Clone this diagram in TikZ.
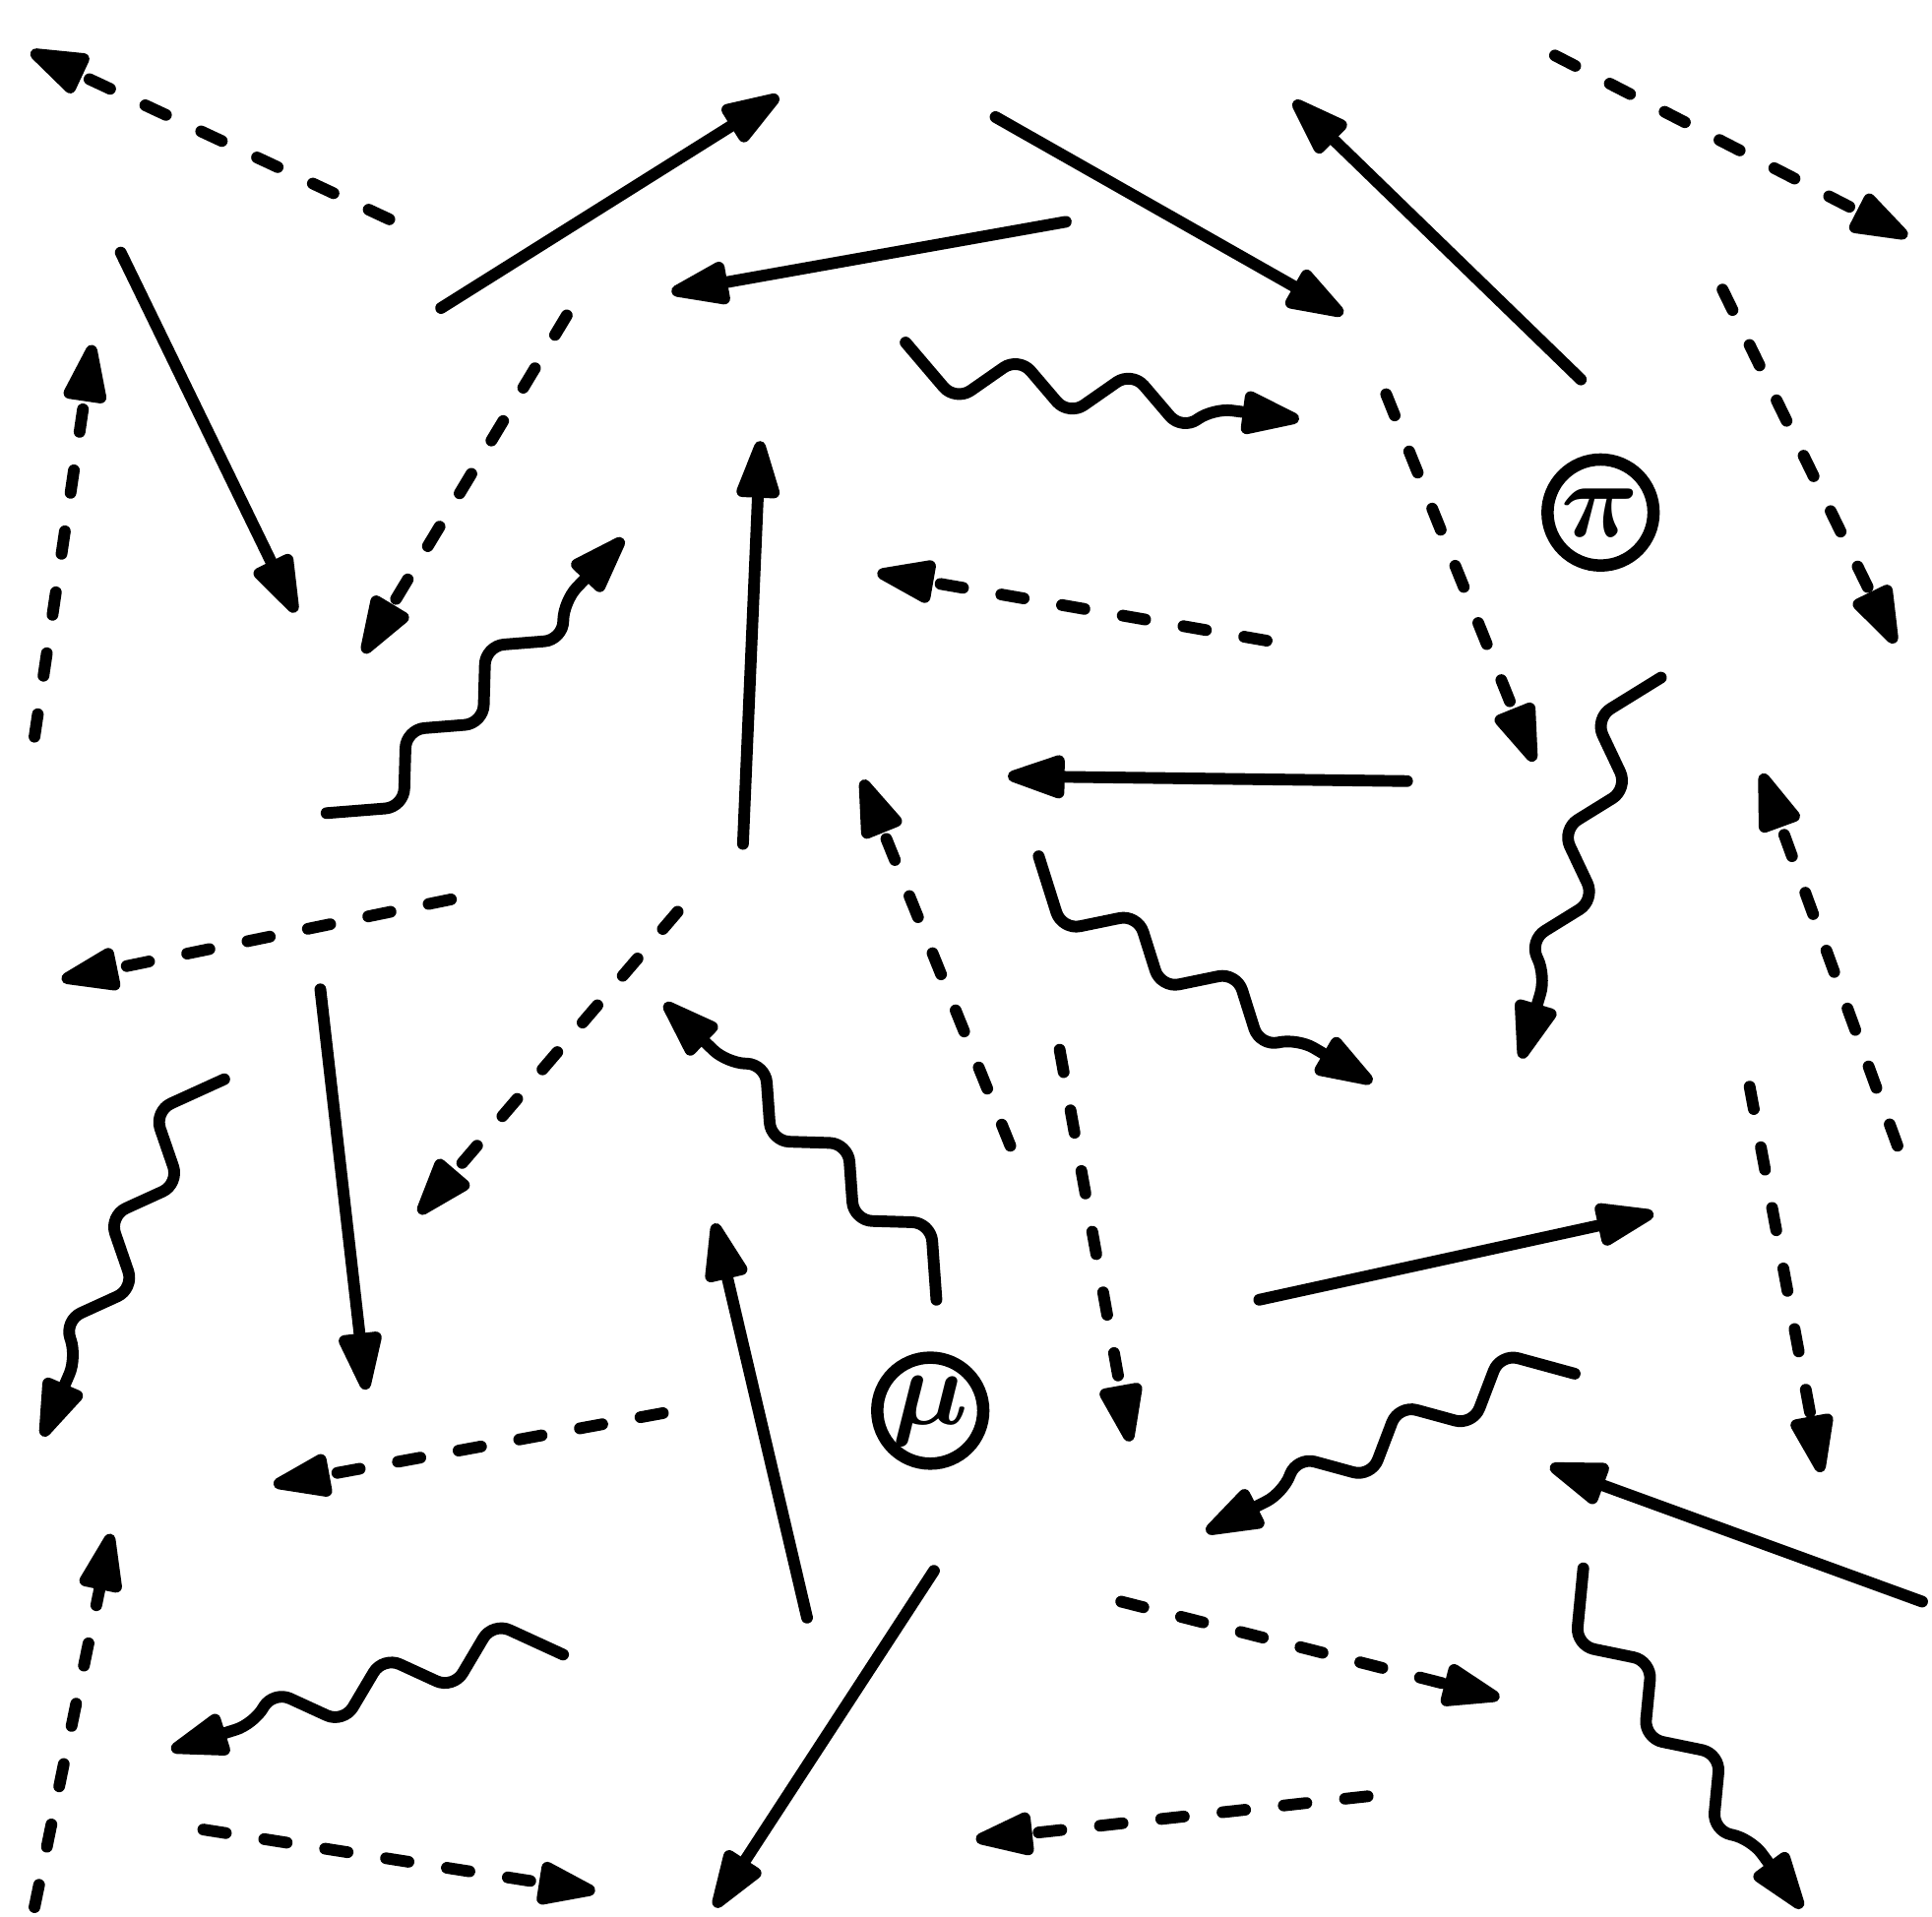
\documentclass[tikz,border=0pt]{standalone}
\usepackage{bm}
\usetikzlibrary{arrows.meta,decorations,calc}
\newdimen\wavethreshold
\pgfdeclaredecoration{stairwave}{up}{
  \state{up}[width=0.5\pgfdecorationsegmentlength, next state=down,
     switch if less than=\wavethreshold to final]{
    \pgfpathlineto{\pgfpoint{0.5\pgfdecorationsegmentlength}{-2\pgfdecorationsegmentamplitude}}
  }
  \state{down}[width=0.5\pgfdecorationsegmentlength, next state=up,
     switch if less than=\wavethreshold to final]{
    \pgfpathlineto{\pgfpoint{0.5\pgfdecorationsegmentlength}{0pt}}
  }
  \state{final}{
    \pgfpathlineto{\pgfpoint{0.25\pgfdecorationsegmentlength}{-\pgfdecorationsegmentamplitude}}
    \pgfpathlineto{\pgfpoint{\pgfdecoratedremainingdistance}{-\pgfdecorationsegmentamplitude}}
  }
}
\tikzset{
  fer/.style={line width=0.095cm, line cap=round, line join=round,
    -{Triangle[length=5.7mm,width=3.6mm,round]}},
  scal/.style={fer, dash pattern=on 0.185cm off 0.315cm},
  bos/.style={fer, decorate, rounded corners=0.15cm,
    decoration={stairwave, amplitude=0.21cm}},
  blob/.style={circle, draw, line width=0.1cm, minimum size=0.86cm,
    inner sep=0pt, font=\fontsize{31}{31}\selectfont}
}
\begin{document}
\begin{tikzpicture}[x=0.01cm,y=-0.01cm]
\useasboundingbox (0,0) rectangle (1568,1556);
% coordinates
\coordinate (s1) at (316,178);  \coordinate (e1) at (25,42);
\coordinate (s2) at (358,250);  \coordinate (e2) at (632,78);
\coordinate (s3) at (808,95);   \coordinate (e3) at (1090,255);
\coordinate (s4) at (1283,308); \coordinate (e4) at (1050,82);
\coordinate (s5) at (1262,45);  \coordinate (e5) at (1548,192);
\coordinate (s6) at (98,205);   \coordinate (e6) at (240,497);
\coordinate (s7) at (865,180);  \coordinate (e7) at (545,237);
\coordinate (s8) at (460,256);  \coordinate (e8) at (295,530);
\coordinate (s9) at (735,278);  \coordinate (e9) at (1053,340);
\coordinate (s10) at (1125,320); \coordinate (e10) at (1245,618);
\coordinate (s12) at (1398,235); \coordinate (e12) at (1538,522);
\coordinate (s13) at (28,598);   \coordinate (e13) at (75,280);
\coordinate (s14) at (265,660);  \coordinate (e14) at (505,438);
\coordinate (s15) at (603,685);  \coordinate (e15) at (617,358);
\coordinate (s16) at (1028,520); \coordinate (e16) at (712,465);
\coordinate (s17) at (1142,634); \coordinate (e17) at (818,630);
\coordinate (s18) at (1348,550); \coordinate (e18) at (1235,858);
\coordinate (s19) at (366,730);  \coordinate (e19) at (50,795);
\coordinate (s20) at (550,740);  \coordinate (e20) at (340,985);
\coordinate (s21) at (760,1055); \coordinate (e21) at (540,815);
\coordinate (s22) at (820,930);  \coordinate (e22) at (700,633);
\coordinate (s23) at (843,695);  \coordinate (e23) at (1113,878);
\coordinate (s24) at (1540,930); \coordinate (e24) at (1430,628);
\coordinate (s25) at (260,803);  \coordinate (e25) at (297,1128);
\coordinate (s26) at (182,876);  \coordinate (e26) at (35,1165);
\coordinate (s27) at (860,852);  \coordinate (e27) at (917,1170);
\coordinate (s28) at (1420,882); \coordinate (e28) at (1478,1195);
\coordinate (s29) at (1022,1055); \coordinate (e29) at (1342,985);
\coordinate (s31) at (655,1313); \coordinate (e31) at (580,993);
\coordinate (s32) at (538,1147); \coordinate (e32) at (222,1205);
\coordinate (s33) at (1278,1115); \coordinate (e33) at (980,1243);
\coordinate (s34) at (1560,1300); \coordinate (e34) at (1258,1190);
\coordinate (s35) at (28,1548);  \coordinate (e35) at (90,1245);
\coordinate (s36) at (457,1343); \coordinate (e36) at (140,1420);
\coordinate (s37) at (758,1275); \coordinate (e37) at (580,1548);
\coordinate (s38) at (910,1300); \coordinate (e38) at (1217,1378);
\coordinate (s39) at (1285,1273); \coordinate (e39) at (1462,1548);
\coordinate (s40) at (165,1485); \coordinate (e40) at (483,1535);
\coordinate (s41) at (1110,1458); \coordinate (e41) at (792,1493);
% particle labels
\node[blob] (pi) at (1299,416) {$\bm{\pi}$};
\node[blob] (mu) at (755,1145) {$\bm{\mu}$};
% solid
\foreach \i in {2,3,4,6,7,15,17,25,29,31,34,37}
  \draw[fer] (s\i) -- (e\i);
% dashed
\foreach \i in {1,5,8,10,12,13,16,19,20,22,24,27,28,32,35,38,40,41}
  \draw[scal] (s\i) -- (e\i);
% wavy: the path runs along the upper envelope, from s to f
\foreach \i in {9,14,18,21,23,26,33,36,39}{
  \coordinate (f\i) at ($(e\i)!0.21cm!-90:(s\i)$);
  \path (s\i); \pgfgetlastxy{\sx}{\sy}
  \path (f\i); \pgfgetlastxy{\fx}{\fy}
  \pgfmathsetmacro\wl{veclen(\fx-\sx,\fy-\sy)-19.92}
  \pgfmathsetmacro\nh{max(1,round(2*\wl/25.04-0.5))}
  \pgfmathsetmacro\lam{\wl/(\nh/2+0.25)}
  \pgfmathsetlength\wavethreshold{\lam pt/2+19.92pt}
  \draw[bos, decoration={segment length=\lam pt}] (s\i) -- (f\i);
}
\end{tikzpicture}
\end{document}
